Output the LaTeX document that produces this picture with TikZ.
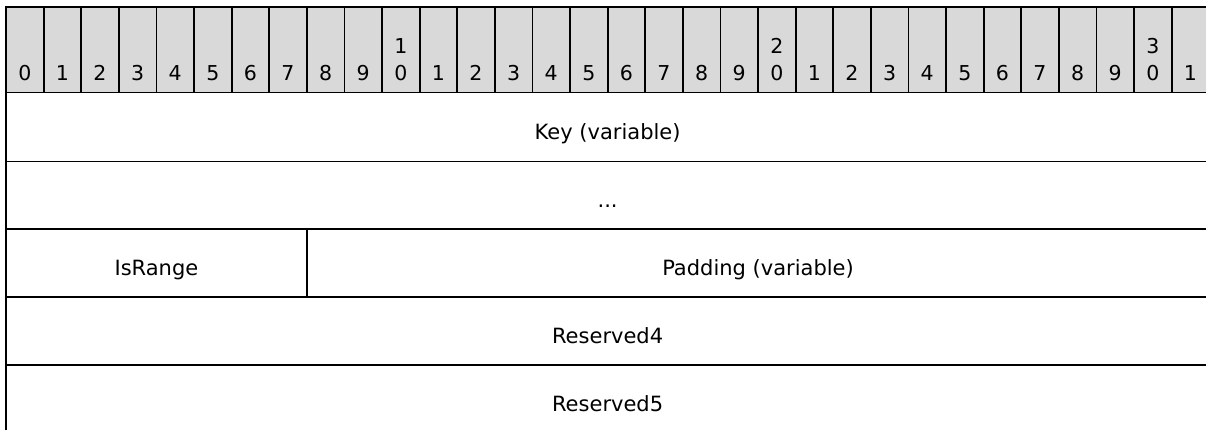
\documentclass[tikz,border=0pt]{standalone}
\usepackage{fontspec}
\setmainfont{DejaVu Sans}
\usepackage{xcolor}
\usetikzlibrary{positioning}
\definecolor{hdrgray}{HTML}{D9D9D9}

\begin{document}
\begin{tikzpicture}[x=1pt,y=-1pt]
\tikzstyle{bitcell} = [rectangle, draw=black, fill=hdrgray, line width=1.8pt, inner sep=0pt, outer sep=0pt, minimum width=37.6pt, minimum height=85.5pt, anchor=north west]
\tikzstyle{bitnum} = [inner sep=0pt, anchor=south, align=center, yshift=12pt, font=\fontsize{20.5}{27}\selectfont]
\tikzstyle{field} = [rectangle, draw=black, line width=1.8pt, inner sep=0pt, outer sep=0pt, text height=24pt, text depth=0pt, anchor=north west, font=\fontsize{21}{26}\selectfont]

\useasboundingbox (0,0) rectangle (1206,429);
\clip (0,0) rectangle (1206,429);

% bit ruler
\foreach \i in {0,...,31} {
  \pgfmathtruncatemacro{\ones}{mod(\i,10)}
  \pgfmathtruncatemacro{\tens}{div(\i,10)}
  \node (b\i) [bitcell] at (6+37.6*\i,7) {};
  \ifnum\ones=0 \ifnum\i>0
    \node (n\i) [bitnum] at (b\i.south) {\tens\\0};
  \else
    \node (n\i) [bitnum] at (b\i.south) {\ones};
  \fi \else
    \node (n\i) [bitnum] at (b\i.south) {\ones};
  \fi
}

% fields
\node (key) [field, minimum width=1203.2pt, minimum height=69pt] at (6,92.5) {Key (variable)};
\node (more) [field, minimum width=1203.2pt, minimum height=67.8pt] at (6,161.5) {...};
\node (isrange) [field, minimum width=300.8pt, minimum height=67.8pt] at (6,229.3) {IsRange};
\node (padding) [field, minimum width=902.4pt, minimum height=67.8pt] at (306.8,229.3) {Padding (variable)};
\node (res4) [field, minimum width=1203.2pt, minimum height=67.9pt] at (6,297.1) {Reserved4};
\node (res5) [field, minimum width=1203.2pt, minimum height=68pt] at (6,365) {Reserved5};
\end{tikzpicture}
\end{document}
